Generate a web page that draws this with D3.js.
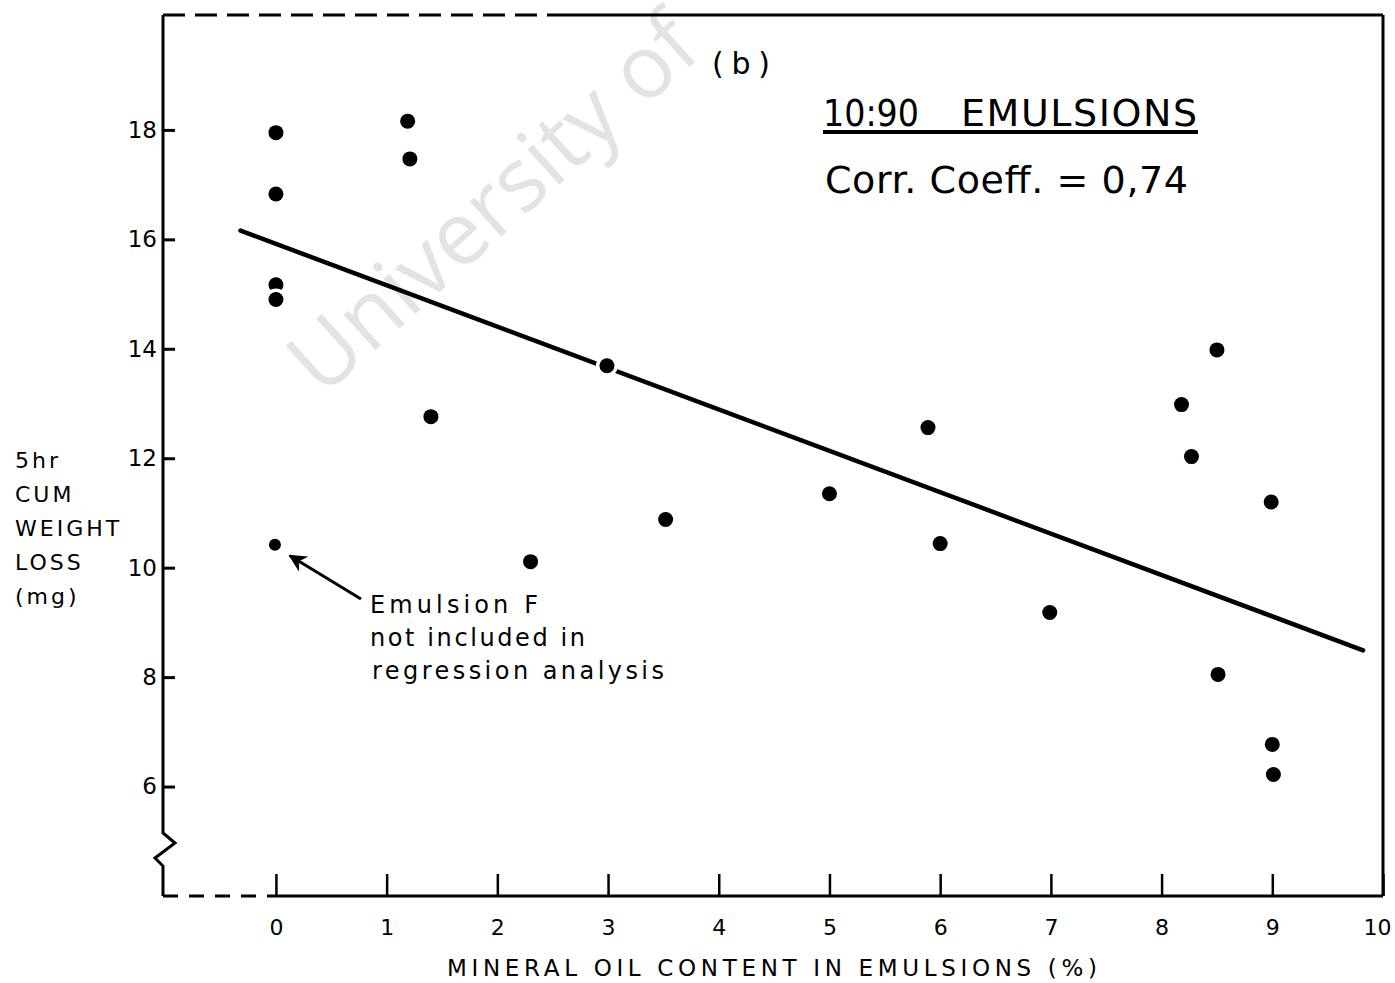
<!DOCTYPE html>
<html>
<head>
<meta charset="utf-8">
<script src="https://cdn.jsdelivr.net/npm/d3@7"></script>
<style>
body { margin: 0; background: #fff; }
text { font-family: "DejaVu Sans", sans-serif; fill: #000; }
</style>
</head>
<body>
<div id="chart"></div>
<script>
// data: mineral oil content (%) vs 5 hr cum weight loss (mg)
var oilContent = [0, 0, 0, 0, 1.19, 1.21, 1.40, 2.30, 2.99, 3.52, 5.00, 5.89, 6.00, 6.99, 8.18, 8.27, 8.50, 8.51, 8.99, 9.00, 9.01];
var weightLoss = [17.95, 16.83, 15.17, 14.90, 18.16, 17.47, 12.76, 10.11, 13.69, 10.88, 11.35, 12.56, 10.44, 9.18, 12.98, 12.03, 13.98, 8.05, 11.20, 6.77, 6.22];

// Emulsion F, left out of the regression
var excludedX = [0];
var excludedY = [10.42];

// regression line end points
var regressionX = [-0.32, 9.82];
var regressionY = [16.16, 8.49];

var xTicks = [0, 1, 2, 3, 4, 5, 6, 7, 8, 9, 10];
var yTicks = [6, 8, 10, 12, 14, 16, 18];

var yTitleLines = ["5hr", "CUM", "WEIGHT", "LOSS", "(mg)"];
var noteLines = ["Emulsion  F", "not included in", "regression analysis"];

var width = 1395, height = 983;

var svg = d3.select("#chart").append("svg")
    .attr("width", width)
    .attr("height", height);

var x = d3.scaleLinear().domain([-1.02, 10]).range([163, 1383]);
var y = d3.scaleLinear().domain([4.0, 20.1]).range([896, 15]);

// watermark
svg.append("text")
    .attr("transform", "translate(322,398) rotate(-42)")
    .style("font-family", "'Open Sans', sans-serif")
    .style("font-size", "88px")
    .style("fill", "#e3e3e3")
    .text("University of");

// frame: solid + dashed pieces, with the break mark on the y axis
var frame = svg.append("g").attr("fill", "none").attr("stroke", "#000").attr("stroke-width", 3);

frame.append("path")
    .attr("d", "M163,15 L163,833 L175,843 L155,858 L163,866 L163,896");
frame.append("line")
    .attr("x1", 163).attr("y1", 15).attr("x2", 560).attr("y2", 15)
    .attr("stroke-dasharray", "22,10");
frame.append("line")
    .attr("x1", 560).attr("y1", 15).attr("x2", 1383).attr("y2", 15);
frame.append("line")
    .attr("x1", 1383).attr("y1", 15).attr("x2", 1383).attr("y2", 896);
frame.append("line")
    .attr("x1", 163).attr("y1", 896).attr("x2", x(0)).attr("y2", 896)
    .attr("stroke-dasharray", "15,11");
frame.append("line")
    .attr("x1", x(0)).attr("y1", 896).attr("x2", 1383).attr("y2", 896);

// axes
var xAxis = svg.append("g")
    .attr("transform", "translate(0,896)")
    .call(d3.axisBottom(x).tickValues(xTicks).tickSize(-22).tickPadding(23));
xAxis.select(".domain").remove();
xAxis.selectAll("line").attr("stroke-width", 2.5);
xAxis.selectAll("text")
    .style("font-size", "22px")
    .attr("font-family", null)
    .attr("dx", function(d) { return d === 10 ? -6 : 0; });

var yAxis = svg.append("g")
    .attr("transform", "translate(163,0)")
    .call(d3.axisLeft(y).tickValues(yTicks).tickSize(-12).tickPadding(6));
yAxis.select(".domain").remove();
yAxis.selectAll("line").attr("stroke-width", 3);
yAxis.selectAll("text").style("font-size", "23px").attr("font-family", null);

// axis titles
svg.append("text")
    .attr("x", 447).attr("y", 976)
    .attr("textLength", 650).attr("lengthAdjust", "spacing")
    .style("font-size", "23px")
    .text("MINERAL OIL CONTENT IN EMULSIONS (%)");

svg.append("g").selectAll("text")
    .data(yTitleLines)
    .enter().append("text")
    .attr("x", 15)
    .attr("y", function(d, i) { return 468 + i * 34; })
    .style("font-size", "22px")
    .style("letter-spacing", "3px")
    .text(function(d) { return d; });

// regression line
var line = d3.line()
    .x(function(d) { return x(d[0]); })
    .y(function(d) { return y(d[1]); });

svg.append("path")
    .datum(d3.zip(regressionX, regressionY))
    .attr("d", line)
    .attr("fill", "none")
    .attr("stroke", "#000")
    .attr("stroke-width", 4.5)
    .attr("stroke-linecap", "round");

// points
svg.append("g").selectAll("circle")
    .data(d3.zip(oilContent, weightLoss))
    .enter().append("circle")
    .attr("cx", function(d) { return x(d[0]); })
    .attr("cy", function(d) { return y(d[1]); })
    .attr("r", 7.5)
    .attr("fill", "#000")
    .attr("stroke", "#fff")
    .attr("stroke-width", 7)
    .attr("paint-order", "stroke");

svg.append("g").selectAll("circle")
    .data(d3.zip(excludedX, excludedY))
    .enter().append("circle")
    .attr("cx", function(d) { return x(d[0]) - 1; })
    .attr("cy", function(d) { return y(d[1]); })
    .attr("r", 6)
    .attr("fill", "#000");

// annotation arrow for Emulsion F
svg.append("defs").append("marker")
    .attr("id", "head")
    .attr("viewBox", "0 0 10 10")
    .attr("refX", 9).attr("refY", 5)
    .attr("markerWidth", 6).attr("markerHeight", 6)
    .attr("orient", "auto")
    .append("path")
    .attr("d", "M0,0 L10,5 L0,10 L3,5 Z")
    .attr("fill", "#000");

svg.append("line")
    .attr("x1", 361).attr("y1", 599)
    .attr("x2", x(excludedX[0]) + 14).attr("y2", y(excludedY[0]) + 11)
    .attr("stroke", "#000")
    .attr("stroke-width", 3)
    .attr("marker-end", "url(#head)");

svg.append("g").selectAll("text")
    .data(noteLines)
    .enter().append("text")
    .attr("x", function(d, i) { return i === 2 ? 372 : 370; })
    .attr("y", function(d, i) { return 613 + i * 33; })
    .attr("textLength", function(d, i) { return [168, 215, 292][i]; })
    .attr("lengthAdjust", "spacing")
    .style("font-size", "24px")
    .text(function(d) { return d; });

// labels in the upper right
svg.append("text")
    .attr("x", 712).attr("y", 74)
    .attr("textLength", 58).attr("lengthAdjust", "spacing")
    .style("font-size", "30px")
    .text("(b)");

svg.append("text")
    .attr("x", 823).attr("y", 126)
    .attr("textLength", 96).attr("lengthAdjust", "spacingAndGlyphs")
    .style("font-size", "38px")
    .text("10:90");

svg.append("text")
    .attr("x", 961).attr("y", 126)
    .attr("textLength", 236).attr("lengthAdjust", "spacing")
    .style("font-size", "38px")
    .text("EMULSIONS");

svg.append("line")
    .attr("x1", 823).attr("y1", 132).attr("x2", 1198).attr("y2", 132)
    .attr("stroke", "#000").attr("stroke-width", 4);

svg.append("text")
    .attr("x", 825).attr("y", 193)
    .attr("textLength", 363).attr("lengthAdjust", "spacing")
    .style("font-size", "38px")
    .text("Corr. Coeff. = 0,74");
</script>
</body>
</html>
